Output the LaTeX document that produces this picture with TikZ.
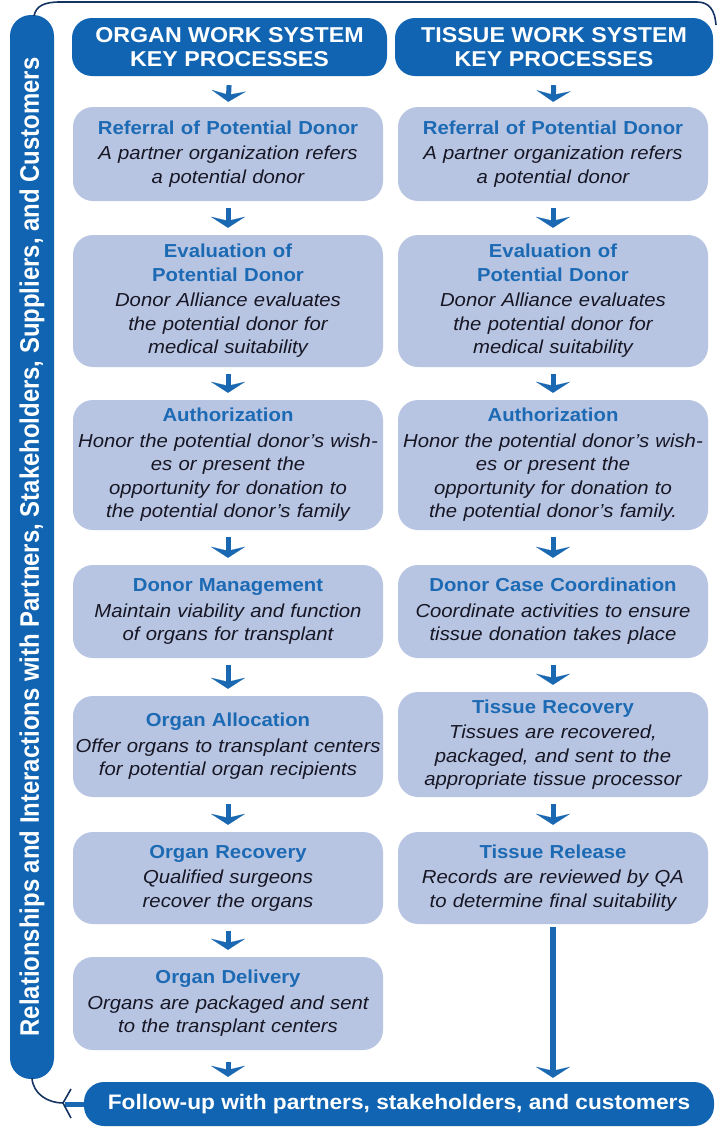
\documentclass[tikz,border=0pt]{standalone}
\usepackage{fontspec}
\setmainfont{Liberation Sans}[FakeStretch=1.08]
\newfontfamily\barfont{Liberation Sans}
\usetikzlibrary{arrows.meta}
\definecolor{dblue}{RGB}{16,100,178}
\definecolor{boxfill}{RGB}{184,197,226}
\definecolor{ttlc}{RGB}{28,106,180}
\definecolor{bodytxt}{RGB}{22,22,36}
\definecolor{arrowc}{RGB}{26,104,178}
\definecolor{navy}{RGB}{22,52,98}
\newcommand{\ttl}[1]{{\color{ttlc}\bfseries #1}}
\tikzset{
  hdr/.style={fill=dblue, rounded corners=20pt, text=white, align=center, inner sep=0pt,
    font=\bfseries\fontsize{21.5}{24}\selectfont},
  stepbox/.style={fill=boxfill, rounded corners=20pt, minimum width=310pt, text width=310pt,
    inner xsep=0pt, inner ysep=0pt, align=center, text=bodytxt,
    font=\fontsize{18.8}{23.5}\selectfont},
  flow/.style={draw=arrowc, line width=5pt, shorten <=7pt, shorten >=7pt,
    -{Stealth[length=11pt,width=34pt,inset=4pt,line width=0.1pt]}},
  thinline/.style={draw=navy, line width=1.6pt},
}
\begin{document}
\begin{tikzpicture}[x=1pt,y=-1pt]
\useasboundingbox (0,0) rectangle (717,1127);
\fill[white] (0,0) rectangle (717,1127);

% left vertical bar
\node[fill=dblue, rounded corners=21pt, rotate=90, minimum width=1064pt, minimum height=44pt,
  inner sep=0pt, text=white] (bar) at (32,547)
  {\scalebox{1}[1.12]{\barfont\bfseries\fontsize{23.9}{25}\selectfont Relationships and Interactions with Partners, Stakeholders, Suppliers, and Customers}};

% bottom bar
\node[fill=dblue, rounded corners=20pt, minimum width=630pt, minimum height=44pt, inner sep=0pt,
  text=white, font=\bfseries\fontsize{21}{22}\selectfont] (follow) at (399,1104)
  {Follow-up with partners, stakeholders, and customers};

% headers
\node[hdr, minimum width=315pt, minimum height=58pt] (hl) at (229.5,47) {ORGAN WORK SYSTEM\\KEY PROCESSES};
\node[hdr, minimum width=318pt, minimum height=58pt] (hr) at (554,47) {TISSUE WORK SYSTEM\\KEY PROCESSES};

% left column
\node[stepbox, minimum height=94pt] (l1) at (228,154)
  {\ttl{Referral of Potential Donor}\\[2pt]\itshape A partner organization refers\\a potential donor};
\node[stepbox, minimum height=132pt] (l2) at (228,301)
  {\ttl{Evaluation of\\Potential Donor}\\[2pt]\itshape Donor Alliance evaluates\\the potential donor for\\medical suitability};
\node[stepbox, minimum height=130pt] (l3) at (228,465)
  {\ttl{Authorization}\\[2pt]\itshape Honor the potential donor’s wish-\\es or present the\\opportunity for donation to\\the potential donor’s family};
\node[stepbox, minimum height=93pt] (l4) at (228,611.5)
  {\ttl{Donor Management}\\[2pt]\itshape Maintain viability and function\\of organs for transplant};
\node[stepbox, minimum height=101pt] (l5) at (228,746.5)
  {\ttl{Organ Allocation}\\[2pt]\itshape Offer organs to transplant centers\\for potential organ recipients};
\node[stepbox, minimum height=92pt] (l6) at (228,878)
  {\ttl{Organ Recovery}\\[2pt]\itshape Qualified surgeons\\recover the organs};
\node[stepbox, minimum height=93pt] (l7) at (228,1003.5)
  {\ttl{Organ Delivery}\\[2pt]\itshape Organs are packaged and sent\\to the transplant centers};

% right column
\node[stepbox, minimum height=94pt] (r1) at (553,154)
  {\ttl{Referral of Potential Donor}\\[2pt]\itshape A partner organization refers\\a potential donor};
\node[stepbox, minimum height=132pt] (r2) at (553,301)
  {\ttl{Evaluation of\\Potential Donor}\\[2pt]\itshape Donor Alliance evaluates\\the potential donor for\\medical suitability};
\node[stepbox, minimum height=130pt] (r3) at (553,465)
  {\ttl{Authorization}\\[2pt]\itshape Honor the potential donor’s wish-\\es or present the\\opportunity for donation to\\the potential donor’s family.};
\node[stepbox, minimum height=93pt] (r4) at (553,611.5)
  {\ttl{Donor Case Coordination}\\[2pt]\itshape Coordinate activities to ensure\\tissue donation takes place};
\node[stepbox, minimum height=105pt] (r5) at (553,744.5)
  {\ttl{Tissue Recovery}\\[2pt]\itshape Tissues are recovered,\\packaged, and sent to the\\appropriate tissue processor};
\node[stepbox, minimum height=92pt] (r6) at (553,878)
  {\ttl{Tissue Release}\\[2pt]\itshape Records are reviewed by QA\\to determine final suitability};

% arrows
\draw[flow, shorten <=9pt, shorten >=5pt] (hl.south) -- (l1.north);
\draw[flow, shorten <=9pt, shorten >=5pt] (hr.south) -- (r1.north);
\foreach \a/\b in {l1/l2,l2/l3,l3/l4,l4/l5,l5/l6,l6/l7,r1/r2,r2/r3,r3/r4,r4/r5,r5/r6}
  \draw[flow] (\a.south) -- (\b.north);
\draw[flow, shorten <=12pt, shorten >=5pt] (l7.south) -- (l7.south |- follow.north);
\draw[flow, line width=6pt, shorten <=3pt, shorten >=4pt] (r6.south) -- (r6.south |- follow.north);

% top connecting line
\coordinate (topL) at (34,16);
\coordinate (topR) at (716,25);
\draw[thinline] (topL) .. controls (36,6) and (44,2) .. (60,2) -- (697,2) .. controls (709,2) and (715,10) .. (topR);

% bottom-left return arrow
\coordinate (barbot) at (32,1078);
\coordinate (tipc) at (63,1103);
\draw[arrowc, line width=5pt] (follow.west) -- (65,1104);
\draw[thinline] (barbot) .. controls (33,1094) and (48,1103) .. (tipc);
\draw[thinline] (71,1089) -- (tipc) -- (71,1118);
\end{tikzpicture}
\end{document}
